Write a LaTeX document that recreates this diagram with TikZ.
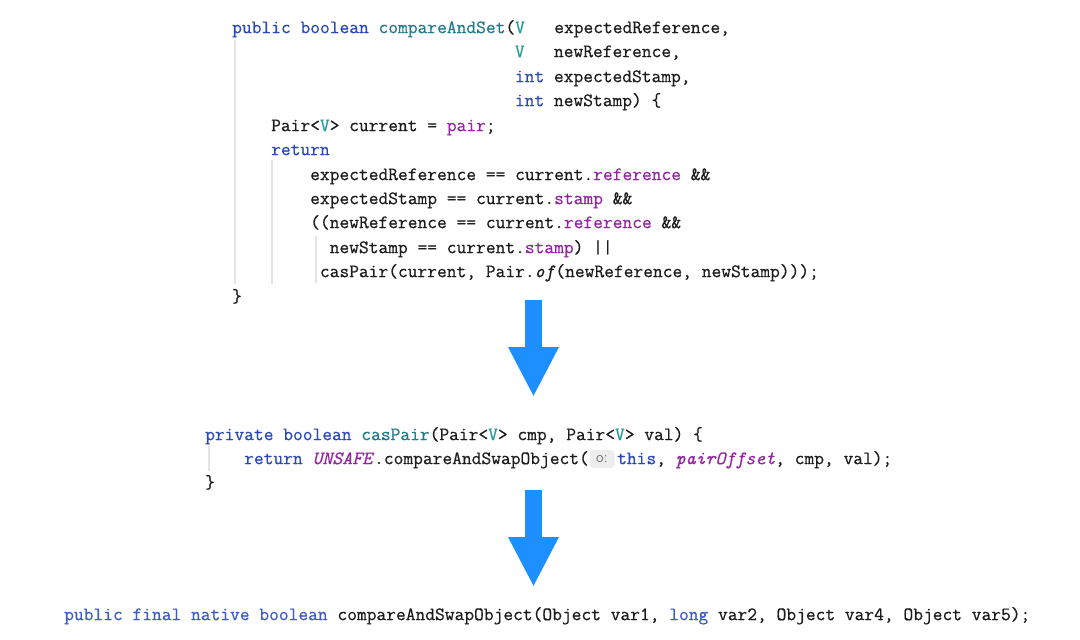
\documentclass[tikz,border=0pt]{standalone}
\usepackage{fontspec}
\setmonofont{Latin Modern Mono}[FakeBold=0.6]
\usetikzlibrary{arrows.meta}
\definecolor{ckw}{HTML}{2A48B8}
\definecolor{cfn}{HTML}{1F7A8C}
\definecolor{ctp}{HTML}{20999D}
\definecolor{cfl}{HTML}{9226A0}
\definecolor{ctx}{HTML}{1C1C1C}
\definecolor{cguide}{HTML}{E4E4E4}
\definecolor{carrow}{HTML}{1E8FFF}
\definecolor{chintbg}{HTML}{EDEDED}
\definecolor{chinttx}{HTML}{7A7A7A}
\definecolor{ckwb}{HTML}{3D5CC6}
\newcommand{\cK}[1]{\textcolor{ckw}{#1}}
\newcommand{\cF}[1]{\textcolor{cfn}{#1}}
\newcommand{\cT}[1]{\textcolor{ctp}{#1}}
\newcommand{\cP}[1]{\textcolor{cfl}{#1}}
\newcommand{\cB}[1]{\textcolor{ckwb}{#1}}
\tikzset{
  code/.style={anchor=mid west, inner sep=0pt, yshift=-4pt, text=ctx, font=\ttfamily\fontsize{18.95}{22}\selectfont},
  guideline/.style={draw=cguide, line width=1.5pt},
  hintbox/.style={fill=chintbg, rounded corners=4pt, minimum width=25pt, minimum height=18pt, inner sep=0pt, text=chinttx, font=\sffamily\fontsize{16}{16}\selectfont},
  bigarrow/.style={draw=carrow, line width=17pt, -{Triangle[width=47pt,length=50pt,fill=carrow]}}
}
\begin{document}
\begin{tikzpicture}[x=1pt,y=-1pt]
\useasboundingbox (0,0) rectangle (1080,640);
% guide lines
\draw[guideline] (235,40) -- (235,284);
\draw[guideline] (272,160) -- (272,284);
\draw[guideline] (316,236) -- (316,283);
\draw[guideline] (209,446) -- (209,471);
% top block
\node[code] (l1) at (232,27) {\cK{public boolean} \cF{compareAndSet}(\cT{V}~~~expectedReference,};
\node[code] (l2) at (514.75,51) {\cT{V}~~~newReference,};
\node[code] (l3) at (514.75,76) {\cK{int} expectedStamp,};
\node[code] (l4) at (514.75,100) {\cK{int} newStamp) \{};
\node[code] (l5) at (271,125) {Pair<\cT{V}> current = \cP{pair};};
\node[code] (l6) at (271,149) {\cK{return}};
\node[code] (l7) at (310,174) {expectedReference == current.\cP{reference} \&\&};
\node[code] (l8) at (310,198) {expectedStamp == current.\cP{stamp} \&\&};
\node[code] (l9) at (310,222) {((newReference == current.\cP{reference} \&\&};
\node[code] (l10) at (329.5,247) {newStamp == current.\cP{stamp}) ||};
\node[code] (l11) at (319.75,271) {casPair(current, Pair.\textit{of}(newReference, newStamp)));};
\node[code] (l12) at (232,296) {\}};
% middle block
\node[code] (m1) at (205,434) {\cK{private boolean} \cF{casPair}(Pair<\cT{V}> cmp, Pair<\cT{V}> val) \{};
\node[code] (m2) at (244,458) {\cK{return} \cP{\textit{UNSAFE}}.compareAndSwapObject(};
\node[hintbox] (hint) at (602,459) {o:};
\node[code] (m3) at (617,458) {\cK{this}, \cP{\textit{pairOffset}}, cmp, val);};
\node[code] (m4) at (205,482) {\}};
% bottom line
\node[code] (b1) at (64,614) {\cB{public final native boolean} compareAndSwapObject(Object var1, \cB{long} var2, Object var4, Object var5);};
% arrows
\coordinate (a1s) at (533.5,300);
\coordinate (a1e) at (533.5,397);
\coordinate (a2s) at (533.5,490);
\coordinate (a2e) at (533.5,587);
\draw[bigarrow] (a1s) -- (a1e);
\draw[bigarrow] (a2s) -- (a2e);
\end{tikzpicture}
\end{document}
